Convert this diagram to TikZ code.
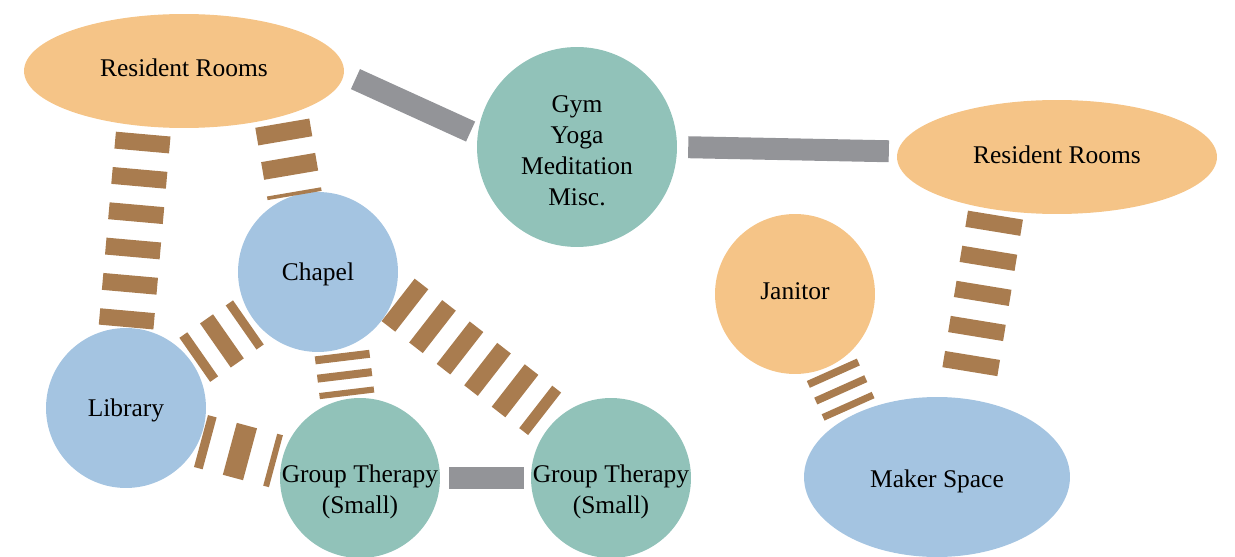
\documentclass[tikz,border=0pt]{standalone}
\usepackage{fontspec}
\setmainfont{Liberation Serif}
\usetikzlibrary{shapes.geometric}

\definecolor{warmfill}{HTML}{F5C487}
\definecolor{tealfill}{HTML}{91C2B9}
\definecolor{bluefill}{HTML}{A4C4E1}
\definecolor{rungbrown}{HTML}{A97C4F}
\definecolor{bargray}{HTML}{939498}

\tikzset{
  txt/.style={font=\rmfamily\fontsize{14.5}{17.6}\selectfont, align=center, text=black},
  room/.style={ellipse, fill=warmfill, draw=none, inner sep=0pt, outer sep=0pt,
               minimum width=6.4cm, minimum height=2.28cm},
  disc/.style={circle, draw=none, inner sep=0pt, outer sep=0pt, minimum size=#1},
  ladder/.style n args={4}{draw=rungbrown, line width=#1,
               dash pattern=on #2 off #3, dash phase=#4},
  bar/.style={draw=bargray, line width=#1},
}

\begin{document}
\begin{tikzpicture}[x=0.02cm, y=-0.02cm]
\useasboundingbox (0,0) rectangle (1235,557);

% rooms and spaces
\node[room] (rr1) at (184,71) {};
\node[txt] (rr1t) at ([yshift=0.06cm]rr1.center) {Resident Rooms};
\node[disc=4cm, fill=tealfill] (gym) at (577,147) {};
\node[txt] (gymt) at ([yshift=-0.08cm]gym.center) {Gym\\Yoga\\Meditation\\Misc.};
\node[room] (rr2) at (1057,157) {};
\node[txt] (rr2t) at ([yshift=0.04cm]rr2.center) {Resident Rooms};
\node[disc=3.2cm, fill=bluefill] (chapel) at (318,272) {};
\node[txt] (chapelt) at ([yshift=-0.04cm]chapel.center) {Chapel};
\node[disc=3.2cm, fill=bluefill] (lib) at (126,408) {};
\node[txt] (libt) at ([yshift=-0.04cm]lib.center) {Library};
\node[disc=3.2cm, fill=tealfill] (gt1) at (360,478) {};
\node[txt] (gt1t) at ([yshift=-0.28cm]gt1.center) {Group Therapy\\(Small)};
\node[disc=3.2cm, fill=tealfill] (gt2) at (611,478) {};
\node[txt] (gt2t) at ([yshift=-0.28cm]gt2.center) {Group Therapy\\(Small)};
\node[disc=3.2cm, fill=warmfill] (jan) at (795,294) {};
\node[txt] (jant) at ([yshift=0.06cm]jan.center) {Janitor};
\node[ellipse, fill=bluefill, inner sep=0pt, outer sep=0pt,
      minimum width=5.32cm, minimum height=3.2cm] (ms) at (937,477) {};
\node[txt] (mst) at ([yshift=-0.08cm]ms.center) {Maker Space};

% solid gray links
\draw[bar=12.5pt, shorten <=7.31pt, shorten >=4.48pt] (rr1.-1.8) -- (gym.173.3);
\draw[bar=12.5pt, shorten <=6.41pt, shorten >=5.1pt] (gym.-0.9) -- (rr2.178.8);
\draw[bar=13pt, shorten <=5.27pt, shorten >=3.97pt] (gt1.0) -- (gt2.180);

% ladder links
\draw[ladder={31.2pt}{9.64pt}{10.54pt}{0pt}, shorten <=4.54pt, shorten >=0.57pt]
  (rr1.234) -- (lib.90);
\draw[ladder={31.2pt}{10.2pt}{9.64pt}{0pt}, shorten <=3.97pt]
  (rr1.-25.4) -- (chapel.107.3);
\draw[ladder={30.6pt}{9.07pt}{8.79pt}{3.57pt}, shorten <=2.27pt, shorten >=3.4pt]
  (lib.35) -- (chapel.216);
\draw[ladder={31.2pt}{4.54pt}{5.95pt}{0pt}, shorten <=2.66pt, shorten >=1.81pt]
  (chapel.-73.7) -- (gt1.99);
\draw[ladder={30.6pt}{11.9pt}{11.9pt}{6.8pt}, shorten <=1.13pt, shorten >=3.29pt]
  (lib.-24.6) -- (gt1.169);
\draw[ladder={30.6pt}{9.81pt}{10.03pt}{0pt}, shorten <=2.95pt, shorten >=7.09pt]
  (chapel.-18.3) -- (gt2.135.5);
\draw[ladder={31.2pt}{4.25pt}{6.12pt}{0pt}, shorten <=2.44pt, shorten >=3.74pt]
  (jan.-64.2) -- (ms.144);
\draw[ladder={31.7pt}{9.35pt}{10.88pt}{0pt}, shorten <=3.12pt, shorten >=15.3pt]
  (rr2.221.4) -- (ms.70.6);
\end{tikzpicture}
\end{document}
